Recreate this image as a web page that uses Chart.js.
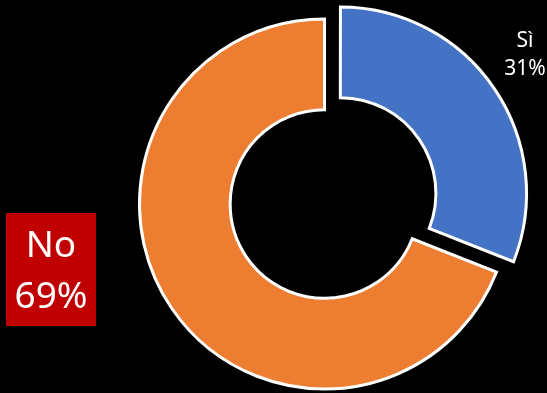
<!DOCTYPE html>
<html>
<head>
<meta charset="utf-8">
<script src="https://cdn.jsdelivr.net/npm/chart.js@4"></script>
<style>
  html, body { margin: 0; padding: 0; background: #000; }
  canvas { display: block; }
</style>
</head>
<body>
<canvas id="chart" width="547" height="393"></canvas>
<script>
const categories = ['Sì', 'No'];
const values = [31, 69];
const percentLabels = ['31%', '69%'];
const colors = ['#4472C4', '#ED7D31'];

// draws the two data labels (Sì at top right, No in the red box on the left)
const labelPlugin = {
  id: 'labels',
  afterDraw(chart) {
    const ctx = chart.ctx;
    ctx.save();
    ctx.textAlign = 'center';
    ctx.textBaseline = 'middle';

    // Sì
    ctx.fillStyle = '#ffffff';
    ctx.font = '21px "Noto Sans"';
    ctx.fillText(categories[0], 525, 41);
    ctx.fillText(percentLabels[0], 525, 69);

    // No, in red box
    ctx.fillStyle = '#C00000';
    ctx.fillRect(6, 213, 90, 113);
    ctx.fillStyle = '#ffffff';
    ctx.font = '37px "Noto Sans"';
    ctx.fillText(categories[1], 51, 246);
    ctx.fillText(percentLabels[1], 51, 297);
    ctx.restore();
  }
};

new Chart(document.getElementById('chart').getContext('2d'), {
  type: 'doughnut',
  data: {
    labels: categories,
    datasets: [{
      data: values,
      backgroundColor: colors,
      borderColor: '#ffffff',
      borderWidth: 3,
      borderJoinStyle: 'miter',
      offset: [76, 0]
    }]
  },
  options: {
    responsive: false,
    animation: false,
    events: [],
    radius: 185,
    cutout: '51%',
    layout: { padding: { left: 102, right: 0, top: 15, bottom: 0 } },
    plugins: {
      legend: { display: false },
      tooltip: { enabled: false }
    }
  },
  plugins: [labelPlugin]
});
</script>
</body>
</html>
